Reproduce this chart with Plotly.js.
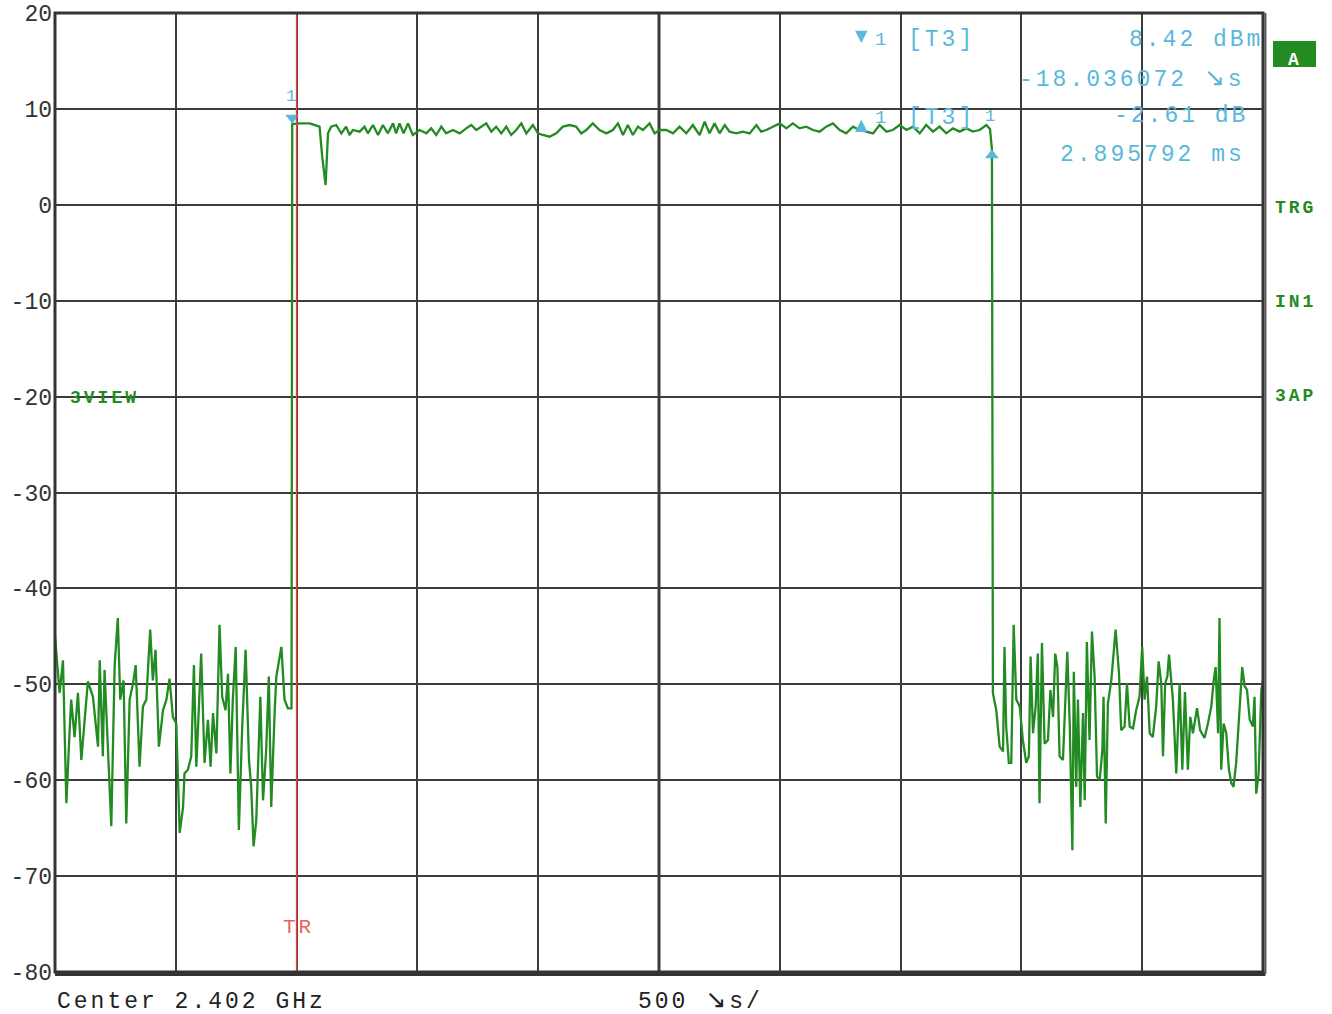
<!DOCTYPE html>
<html>
<head>
<meta charset="utf-8">
<script src="https://cdn.plot.ly/plotly-3.0.1.min.js"></script>
<style>
html,body{margin:0;padding:0;background:#fff;}
#chart{width:1332px;height:1014px;}
.annotation-text{letter-spacing:3px;}
</style>
</head>
<body>
<div id="chart"></div>
<script>
// ---- data (time in µs relative to trigger, level in dBm) ----
const noiseLeftTimes = [-1000,-981,-967,-953,-940,-933,-919,-905,-891,-877,-864,-843,-822,-815,-802,-795,-781,-767,-753,-740,-730,-716,-705,-691,-677,-666,-650,-636,-622,-606,-595,-584,-570,-553,-539,-526,-512,-498,-484,-470,-464,-450,-436,-425,-415,-402,-395,-381,-367,-356,-346,-332,-319,-308,-294,-284,-274,-264,-252,-239,-225,-211,-197,-188,-178,-167,-150,-139,-126,-115,-105,-91,-84,-63,-50,-36,-21];
const noiseLeftLevels = [-45.0,-50.9,-47.5,-62.4,-55.1,-51.6,-55.5,-50.9,-57.9,-53.4,-49.7,-51.3,-56.5,-47.5,-57.5,-48.5,-56.9,-64.8,-48.0,-43.1,-51.6,-49.6,-64.5,-51.6,-49.9,-48.0,-58.6,-52.3,-51.6,-44.3,-49.6,-46.4,-56.5,-52.7,-51.6,-49.4,-53.4,-54.1,-65.5,-62.8,-59.3,-58.9,-57.5,-48.0,-58.6,-51.3,-46.8,-58.2,-53.7,-58.6,-53.0,-57.2,-43.8,-51.3,-52.7,-48.9,-59.3,-51.6,-46.1,-65.2,-54.4,-46.4,-57.9,-60.7,-66.9,-64.2,-51.3,-62.1,-56.9,-49.2,-62.8,-53.0,-49.2,-46.1,-51.6,-52.5,-52.5];

const burstTimes = [-18,12,54,95,106,120,130,143,164,185,205,219,233,261,281,295,316,337,357,378,399,412,426,443,461,481,509,537,557,578,599,619,647,675,702,723,744,764,785,806,826,847,868,888,909,930,951,978,999,1019,1047,1075,1102,1130,1157,1178,1199,1226,1254,1282,1309,1330,1351,1371,1392,1413,1433,1461,1482,1502,1530,1558,1585,1613,1640,1668,1689,1709,1730,1751,1772,1792,1820,1847,1875,1903,1923,1944,1972,2000,2027,2054,2082,2110,2137,2165,2192,2220,2248,2275,2303,2330,2358,2386,2413,2441,2468,2496,2524,2551,2579,2606,2634,2661,2689,2717,2744,2772,2799,2827,2855,2870,2878];
const burstLevels = [8.42,8.49,8.49,8.15,5.02,2.06,7.45,8.15,8.32,7.45,8.15,7.28,7.80,7.63,8.15,7.45,8.32,7.28,8.32,7.45,8.49,7.45,8.49,7.45,8.49,7.28,7.80,7.45,7.97,7.28,8.15,7.45,7.80,7.45,7.97,8.32,7.80,8.15,8.49,7.63,8.15,7.45,8.15,7.28,7.80,8.49,7.45,8.32,7.45,7.28,7.10,7.45,8.15,8.32,8.15,7.45,7.80,8.49,7.80,7.45,7.80,8.49,7.28,8.32,7.28,8.15,7.80,8.49,7.45,7.80,7.80,7.45,8.15,7.45,8.32,7.28,8.67,7.45,8.49,7.45,8.32,7.63,7.45,7.63,7.45,8.32,7.63,7.80,8.15,8.49,7.97,8.49,7.97,8.15,7.80,7.63,8.15,8.49,7.80,7.45,8.15,7.80,7.63,7.45,8.32,7.63,7.80,8.32,7.80,8.15,7.45,8.32,7.63,8.15,7.45,7.97,7.63,7.97,7.63,7.80,8.32,7.90,5.81];

const noiseRightTimes = [2882,2896,2910,2924,2930,2937,2948,2958,2968,2979,2993,3006,3020,3031,3038,3048,3059,3068,3075,3085,3096,3110,3120,3131,3140,3149,3158,3172,3183,3190,3200,3211,3217,3227,3234,3244,3255,3262,3271,3282,3292,3303,3313,3324,3335,3340,3349,3358,3372,3390,3404,3413,3427,3437,3448,3462,3475,3489,3500,3510,3520,3531,3544,3558,3568,3579,3586,3595,3604,3611,3620,3627,3641,3655,3666,3677,3689,3699,3710,3727,3740,3758,3772,3786,3796,3804,3814,3820,3827,3837,3848,3859,3869,3878,3889,3903,3914,3924,3934,3945,3958,3965,3972,3982,3993,4000];
const noiseRightLevels = [-50.9,-52.7,-56.5,-57.0,-46.1,-54.4,-58.2,-58.2,-43.8,-51.6,-52.3,-55.8,-58.2,-57.5,-47.1,-55.1,-52.3,-46.8,-62.4,-45.7,-56.2,-55.8,-50.6,-53.4,-46.8,-48.2,-57.5,-57.9,-50.6,-46.6,-54.1,-67.3,-48.7,-60.7,-51.6,-62.8,-53.0,-62.1,-45.6,-55.8,-44.5,-49.2,-59.6,-60.0,-56.9,-51.3,-64.5,-52.0,-49.6,-44.3,-48.9,-54.8,-54.4,-49.9,-54.4,-54.6,-52.7,-51.3,-46.1,-51.6,-49.2,-55.1,-55.5,-52.3,-47.6,-49.9,-57.5,-49.9,-49.2,-46.9,-49.6,-51.6,-59.3,-49.9,-58.9,-50.8,-58.9,-53.4,-55.1,-52.5,-54.8,-55.6,-54.1,-52.3,-49.6,-48.2,-55.1,-43.1,-58.9,-54.1,-55.1,-58.9,-60.3,-60.7,-58.2,-53.0,-48.2,-50.2,-50.6,-53.7,-54.4,-51.3,-61.4,-59.3,-50.6,-49.6];

// markers
const marker1Time = -18.036072;   // µs
const marker1Level = 8.42;        // dBm
const deltaTime = 2895.792;       // µs
const deltaLevel = -2.61;         // dB

// axis ticks
const yTickValues = [20,10,0,-10,-20,-30,-40,-50,-60,-70,-80];
const yTickLabels = ['20','10','0','-10','-20','-30','-40','-50','-60','-70','-80'];

// texts
const ARROW = '<span style="font-family:DejaVu Sans;font-size:25px">\u2198</span>';
const marker1Texts = ['8.42 dBm', '-18.036072 ' + ARROW + 's'];
const deltaTexts = ['-2.61 dB', '2.895792 ms'];
const sideLabels = ['TRG', 'IN1', '3AP'];
const centerText = 'Center 2.402 GHz';
const spanText = '500 ' + ARROW + 's/';

// ---- build ----
const times = noiseLeftTimes.concat(burstTimes, noiseRightTimes);
const levels = noiseLeftLevels.concat(burstLevels, noiseRightLevels);

const marker2Time = marker1Time + deltaTime;
const marker2Level = marker1Level + deltaLevel;

const GREEN = '#228b22';
const BLUE = '#5ab8dc';
const MONO = 'Liberation Mono, Courier New, monospace';

const traces = [
  {
    x: times, y: levels, type: 'scatter', mode: 'lines',
    line: {color: GREEN, width: 2.3}, hoverinfo: 'skip', showlegend: false
  },
  {
    x: [marker1Time], y: [marker1Level + 0.65], type: 'scatter', mode: 'markers',
    marker: {symbol: 'triangle-down', size: 12, color: BLUE}, hoverinfo: 'skip', showlegend: false
  },
  {
    x: [marker2Time], y: [marker2Level - 0.65], type: 'scatter', mode: 'markers',
    marker: {symbol: 'triangle-up', size: 12, color: BLUE}, hoverinfo: 'skip', showlegend: false
  }
];

function ann(x, y, text, font, xanchor, extra) {
  return Object.assign({xref:'paper', yref:'paper', x:x, y:y, text:text, showarrow:false,
    xanchor: xanchor || 'center', yanchor:'middle', font:font}, extra || {});
}

const blueFont = {family: MONO, size: 23, color: BLUE};
const greenBold = {family: MONO, size: 18, color: GREEN, weight: 'bold'};
const darkFont = {family: MONO, size: 23, color: '#222'};

const annotations = [
  ann(0.6685, 0.977, '\u25BC', {family:'DejaVu Sans', size:16, color:BLUE}),
  ann(0.685, 0.9718, '1', {family:MONO, size:19, color:BLUE}),
  ann(0.734, 0.9718, '[T3]', blueFont),
  ann(1.002, 0.9718, marker1Texts[0], blueFont, 'right'),
  ann(0.987, 0.9322, marker1Texts[1], blueFont, 'right'),
  ann(0.6685, 0.884, '\u25B2', {family:'DejaVu Sans', size:16, color:BLUE}),
  ann(0.685, 0.8905, '1', {family:MONO, size:19, color:BLUE}),
  ann(0.734, 0.8905, '[T3]', blueFont),
  ann(0.989, 0.8926, deltaTexts[0], blueFont, 'right'),
  ann(0.987, 0.8519, deltaTexts[1], blueFont, 'right'),
  // marker number labels
  {x:marker1Time, y:marker1Level, xref:'x', yref:'y', text:'1', showarrow:false, yshift:28,
   xanchor:'center', yanchor:'middle', font:{family:MONO, size:17, color:BLUE}},
  {x:marker2Time, y:marker2Level, xref:'x', yref:'y', text:'1', showarrow:false, yshift:33,
   xanchor:'center', yanchor:'middle', font:{family:MONO, size:17, color:BLUE}},
  // trigger label
  {x:0, xref:'x', yref:'paper', y:0.0459, text:'TR', showarrow:false, xshift:2,
   xanchor:'center', yanchor:'middle', font:{family:MONO, size:21, color:'#e8655c'}},
  // green side labels
  ann(1.0265, 0.797, sideLabels[0], greenBold),
  ann(1.0265, 0.699, sideLabels[1], greenBold),
  ann(1.0265, 0.601, sideLabels[2], greenBold),
  ann(1.0265, 0.9515, 'A', {family:MONO, size:18, color:'#ffffff', weight:'bold'}),
  ann(0.0108, 0.5985, '3VIEW', greenBold, 'left'),
  // bottom texts
  ann(0.0, -0.0313, centerText, darkFont, 'left'),
  ann(0.481, -0.0292, spanText, darkFont, 'left')
];

const GRID = '#3c3c3c';
const shapes = [
  // trigger line
  {type:'line', xref:'x', yref:'paper', x0:0, x1:0, y0:0, y1:1, line:{color:'#e8453c', width:1.5}},
  // thicker centre line
  {type:'line', xref:'x', yref:'paper', x0:1500, x1:1500, y0:0, y1:1, line:{color:GRID, width:3}, layer:'below'},
  // frame
  {type:'rect', xref:'paper', yref:'paper', x0:0, x1:1, y0:0, y1:1, line:{color:'#333', width:3}},
  {type:'line', xref:'paper', yref:'paper', x0:0, x1:1.002, y0:-0.002, y1:-0.002, line:{color:'#333', width:4}},
  {type:'line', xref:'paper', yref:'paper', x0:1.002, x1:1.002, y0:-0.002, y1:1, line:{color:'#555', width:2}},
  // "A" box
  {type:'rect', xref:'paper', yref:'paper', x0:1.0083, x1:1.0439, y0:0.9437, y1:0.9708, fillcolor:GREEN, line:{width:0}}
];

const layout = {
  width: 1332, height: 1014,
  margin: {l:55, r:69, t:13, b:42},
  paper_bgcolor: '#ffffff', plot_bgcolor: '#ffffff',
  showlegend: false,
  xaxis: {
    range: [-1000, 4000], tick0: -1000, dtick: 500,
    showgrid: true, gridcolor: GRID, gridwidth: 2,
    showticklabels: false, ticks: '', zeroline: false, showline: false
  },
  yaxis: {
    range: [-80, 20], tickvals: yTickValues, ticktext: yTickLabels,
    showgrid: true, gridcolor: GRID, gridwidth: 2,
    zeroline: false, showline: false, ticks: '',
    tickfont: {family: MONO, size: 23, color: '#333'}, ticklabelstandoff: 2
  },
  annotations: annotations,
  shapes: shapes
};

Plotly.newPlot('chart', traces, layout, {staticPlot: true, displayModeBar: false});
</script>
</body>
</html>
